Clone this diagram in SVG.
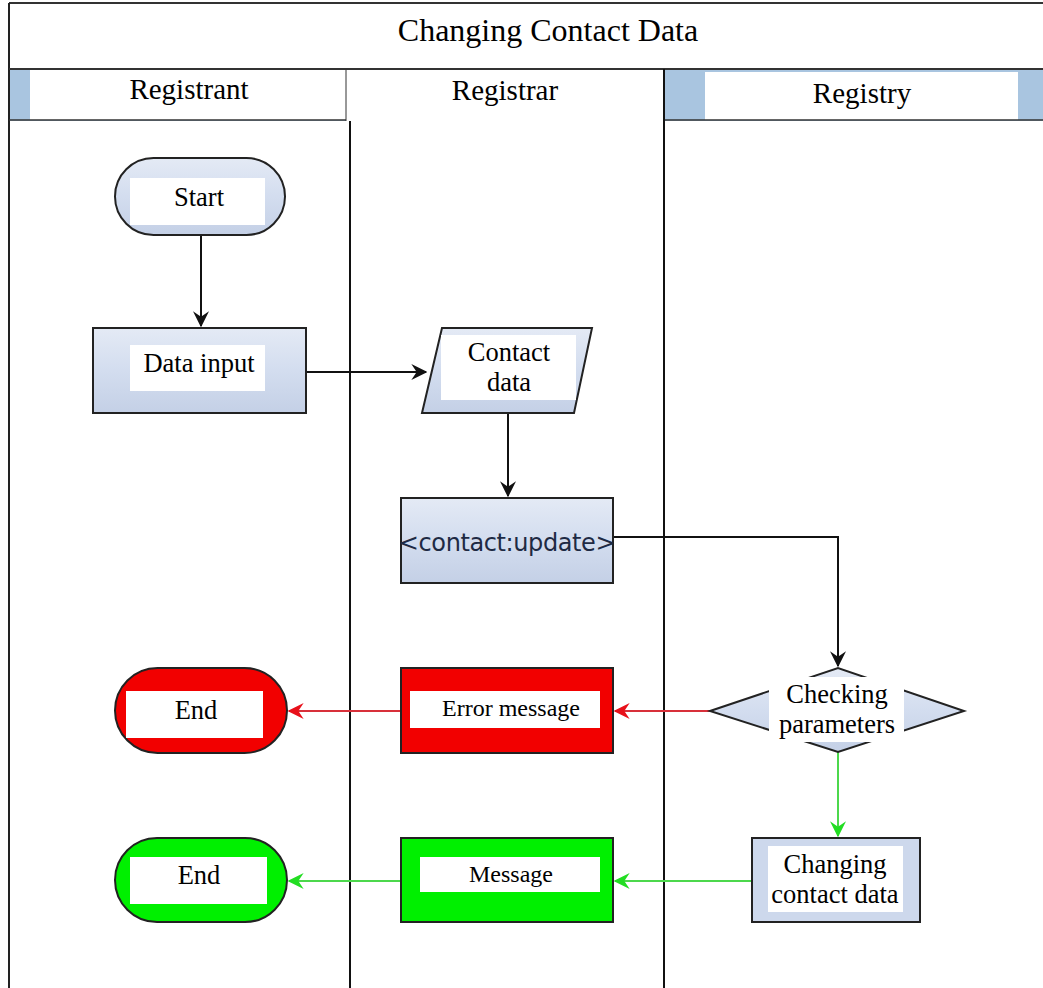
<svg xmlns="http://www.w3.org/2000/svg" width="1043" height="988" viewBox="0 0 1043 988">
<style>
.t{font-family:"Liberation Serif","Times New Roman",serif;fill:#000;text-anchor:middle}
.node{stroke:#222;stroke-width:2}
.lbl{fill:#fff}
.ln{stroke:#111;stroke-width:2;fill:none}
</style>
<defs>
<linearGradient id="bg" x1="0" y1="0" x2="0" y2="1">
<stop offset="0" stop-color="#e4eaf5"/><stop offset="0.5" stop-color="#d3ddef"/><stop offset="1" stop-color="#c4d0e6"/>
</linearGradient>
<marker id="ak" viewBox="0 0 12 12" refX="11" refY="6" markerWidth="16" markerHeight="16" markerUnits="userSpaceOnUse" orient="auto"><path d="M0,0 L12,6 L0,12 L4,6 Z" fill="#111"/></marker>
<marker id="ar" viewBox="0 0 12 12" refX="11" refY="6" markerWidth="16" markerHeight="16" markerUnits="userSpaceOnUse" orient="auto"><path d="M0,0 L12,6 L0,12 L4,6 Z" fill="#e8101a"/></marker>
<marker id="ag" viewBox="0 0 12 12" refX="11" refY="6" markerWidth="16" markerHeight="16" markerUnits="userSpaceOnUse" orient="auto"><path d="M0,0 L12,6 L0,12 L4,6 Z" fill="#22dd22"/></marker>
</defs>
<rect width="1043" height="988" fill="#fff"/>
<g id="frame">
<rect x="9" y="69" width="1034" height="52" fill="#a9c5e0"/>
<rect x="30" y="70" width="316" height="50" fill="#fff"/>
<rect x="346" y="70" width="317" height="52" fill="#fff"/>
<rect x="705" y="72" width="313" height="48" fill="#fff"/>
<line x1="9" y1="3" x2="1043" y2="3" stroke="#333" stroke-width="2"/>
<line x1="9" y1="3" x2="9" y2="988" stroke="#222" stroke-width="2"/>
<line x1="9" y1="69" x2="1043" y2="69" stroke="#333" stroke-width="2"/>
<line x1="9" y1="120" x2="346" y2="120" stroke="#333" stroke-width="1.5"/>
<line x1="663" y1="120" x2="1043" y2="120" stroke="#333" stroke-width="1.5"/>
<line x1="346" y1="69" x2="346" y2="121" stroke="#333" stroke-width="1"/>
<line x1="350" y1="121" x2="350" y2="988" stroke="#111" stroke-width="2"/>
<line x1="664" y1="69" x2="664" y2="988" stroke="#111" stroke-width="2"/>
<text class="t" x="548" y="41" font-size="32">Changing Contact Data</text>
<text class="t" x="189" y="99" font-size="29">Registrant</text>
<text class="t" x="505" y="100" font-size="29">Registrar</text>
<text class="t" x="862" y="103" font-size="29">Registry</text>
</g>
<g id="connectors">
<line class="ln" x1="201" y1="235" x2="201" y2="326" marker-end="url(#ak)"/>
<line class="ln" x1="306" y1="372" x2="426" y2="372" marker-end="url(#ak)"/>
<line class="ln" x1="508" y1="413" x2="508" y2="496" marker-end="url(#ak)"/>
<polyline class="ln" points="613,537 838,537 838,666" marker-end="url(#ak)"/>
<line x1="710" y1="711" x2="615" y2="711" stroke="#d8303a" stroke-width="2" marker-end="url(#ar)"/>
<line x1="401" y1="711" x2="289" y2="711" stroke="#d8303a" stroke-width="2" marker-end="url(#ar)"/>
<line x1="838" y1="752" x2="838" y2="836" stroke="#4cd84c" stroke-width="2" marker-end="url(#ag)"/>
<line x1="752" y1="881" x2="615" y2="881" stroke="#4cd84c" stroke-width="2" marker-end="url(#ag)"/>
<line x1="401" y1="881" x2="289" y2="881" stroke="#4cd84c" stroke-width="2" marker-end="url(#ag)"/>
</g>
<g id="start">
<rect class="node" x="115" y="158" width="170" height="77" rx="38.5" fill="url(#bg)"/>
<rect class="lbl" x="130" y="178" width="135" height="47"/>
<text class="t" x="199" y="206" font-size="26.5">Start</text>
</g>
<g id="data-input">
<rect class="node" x="93" y="328" width="213" height="85" fill="url(#bg)"/>
<rect class="lbl" x="130" y="345" width="135" height="46"/>
<text class="t" x="199" y="372" font-size="26.5">Data input</text>
</g>
<g id="contact-data">
<polygon class="node" points="442,328 592,328 574,413 422,413" fill="url(#bg)"/>
<rect class="lbl" x="441" y="335" width="135" height="65"/>
<text class="t" x="509" y="361" font-size="26.5">Contact</text>
<text class="t" x="509" y="391" font-size="26.5">data</text>
</g>
<g id="contact-update">
<rect class="node" x="401" y="498" width="212" height="85" fill="url(#bg)"/>
<text x="507" y="551" font-size="24" text-anchor="middle" fill="#1e2a44" font-family="'DejaVu Sans',sans-serif" letter-spacing="-0.4">&lt;contact:update&gt;</text>
</g>
<g id="checking">
<polygon class="node" points="710,711 838,668 964,711 838,752" fill="url(#bg)"/>
<rect class="lbl" x="769" y="677" width="135" height="65"/>
<text class="t" x="837" y="703" font-size="26.5">Checking</text>
<text class="t" x="837" y="733" font-size="26.5">parameters</text>
</g>
<g id="error-message">
<rect class="node" x="401" y="668" width="212" height="85" fill="#f20000"/>
<rect class="lbl" x="410" y="691" width="190" height="37"/>
<text class="t" x="511" y="716" font-size="24">Error message</text>
</g>
<g id="end-red">
<rect class="node" x="115" y="668" width="172" height="85" rx="42.5" fill="#f20000"/>
<rect class="lbl" x="126" y="691" width="137" height="47"/>
<text class="t" x="196" y="719" font-size="26.5">End</text>
</g>
<g id="changing">
<rect class="node" x="752" y="838" width="168" height="84" fill="#cdd8ec"/>
<rect class="lbl" x="768" y="846" width="135" height="66"/>
<text class="t" x="835" y="873" font-size="26.5">Changing</text>
<text class="t" x="835" y="903" font-size="26.5">contact data</text>
</g>
<g id="message">
<rect class="node" x="401" y="838" width="212" height="84" fill="#00f000"/>
<rect class="lbl" x="420" y="857" width="180" height="35"/>
<text class="t" x="511" y="882" font-size="24">Message</text>
</g>
<g id="end-green">
<rect class="node" x="115" y="838" width="172" height="84" rx="42" fill="#00f000"/>
<rect class="lbl" x="130" y="857" width="137" height="47"/>
<text class="t" x="199" y="884" font-size="26.5">End</text>
</g>
</svg>
